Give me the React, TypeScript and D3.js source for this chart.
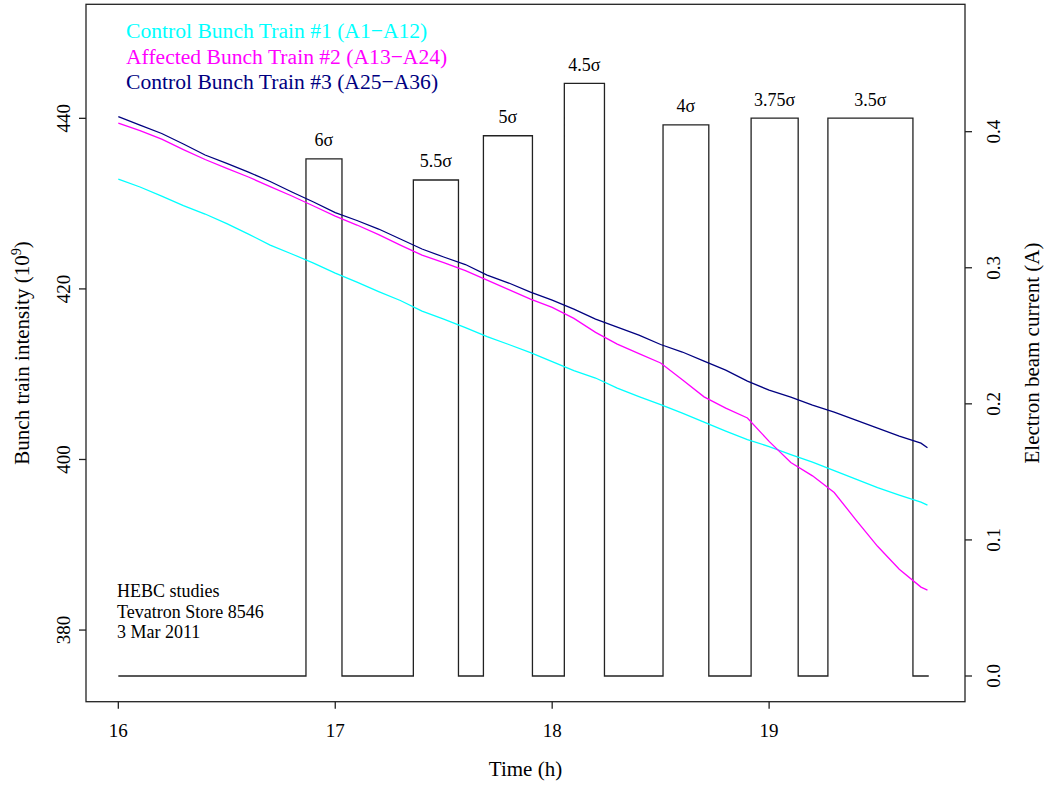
import React from "react";
import * as d3 from "d3";

// ---- Data ----
const times = [16.0, 16.1, 16.2, 16.3, 16.4, 16.5, 16.6, 16.7, 16.8, 16.9, 17.0, 17.1, 17.2, 17.3, 17.4, 17.5, 17.6, 17.7, 17.8, 17.9, 18.0, 18.1, 18.2, 18.3, 18.4, 18.5, 18.6, 18.7, 18.8, 18.9, 19.0, 19.1, 19.2, 19.3, 19.4, 19.5, 19.6, 19.7, 19.73];

const train1 = [432.88, 431.95, 430.89, 429.77, 428.78, 427.66, 426.43, 425.14, 424.09, 423.03, 421.86, 420.80, 419.69, 418.64, 417.40, 416.46, 415.47, 414.41, 413.48, 412.54, 411.48, 410.43, 409.55, 408.37, 407.38, 406.44, 405.44, 404.38, 403.33, 402.34, 401.51, 400.58, 399.70, 398.70, 397.70, 396.71, 395.83, 395.00, 394.65];

const train2 = [439.45, 438.57, 437.57, 436.34, 435.17, 434.14, 433.12, 432.00, 430.89, 429.72, 428.54, 427.49, 426.37, 425.14, 423.96, 423.09, 422.15, 421.04, 419.92, 418.81, 417.84, 416.54, 414.91, 413.53, 412.41, 411.31, 409.36, 407.34, 406.03, 404.86, 402.12, 399.65, 398.08, 396.13, 392.93, 389.82, 387.14, 385.04, 384.69];

const train3 = [440.21, 439.21, 438.22, 436.99, 435.70, 434.72, 433.70, 432.59, 431.36, 430.19, 428.95, 428.02, 427.02, 425.85, 424.68, 423.74, 422.86, 421.62, 420.69, 419.63, 418.69, 417.63, 416.46, 415.52, 414.58, 413.48, 412.60, 411.54, 410.48, 409.19, 408.13, 407.31, 406.38, 405.55, 404.62, 403.68, 402.74, 401.92, 401.37];

const pulseOn = [16.865, 17.36, 17.683, 18.056, 18.511, 18.917, 19.271];
const pulseOff = [17.031, 17.568, 17.909, 18.241, 18.722, 19.134, 19.663];
const pulseCurrent = [0.38, 0.3645, 0.397, 0.4355, 0.405, 0.41, 0.41];
const pulseLabels = ["6σ", "5.5σ", "5σ", "4.5σ", "4σ", "3.75σ", "3.5σ"];
const beamStart = 16.0;
const beamEnd = 19.736;

const xTicks = [16, 17, 18, 19];
const yLeftTicks = [380, 400, 420, 440];
const yRightTicks = [0.0, 0.1, 0.2, 0.3, 0.4];

const seriesNames = [
  "Control Bunch Train #1 (A1\u2212A12)",
  "Affected Bunch Train #2 (A13\u2212A24)",
  "Control Bunch Train #3 (A25\u2212A36)",
];
const seriesColors = ["#00FFFF", "#FF00FF", "#000080"];
const noteLines = ["HEBC studies", "Tevatron Store 8546", "3 Mar 2011"];

// ---- Layout ----
const W = 1045;
const H = 786;
const L = 86, R = 965, T = 4.3, B = 701.7;
const FONT = "'Liberation Serif', 'Times New Roman', serif";

export default function App() {
  const x = d3.scaleLinear().domain([15.851, 19.903]).range([L, R]);
  const yL = d3.scaleLinear().domain([371.6, 453.37]).range([B, T]);
  const yR = d3.scaleLinear().domain([-0.01889, 0.49361]).range([B, T]);

  const series = [train1, train2, train3];
  const line = d3
    .line<[number, number]>()
    .x((d) => x(d[0]))
    .y((d) => yL(d[1]));

  const stepPts: [number, number][] = [[beamStart, 0]];
  pulseOn.forEach((on, i) => {
    stepPts.push([on, 0], [on, pulseCurrent[i]], [pulseOff[i], pulseCurrent[i]], [pulseOff[i], 0]);
  });
  stepPts.push([beamEnd, 0]);
  const stepLine = d3
    .line<[number, number]>()
    .x((d) => x(d[0]))
    .y((d) => yR(d[1]));

  const stroke = "#222";

  return (
    <svg
      width={W}
      height={H}
      style={{ position: "absolute", left: 0, top: 0, background: "#fff" }}
      fontFamily={FONT}
    >
      <rect x={0} y={0} width={W} height={H} fill="#fff" />
      {/* beam current steps */}
      <path d={stepLine(stepPts) || ""} fill="none" stroke={stroke} strokeWidth={1.3} />
      {pulseLabels.map((lab, i) => (
        <text
          key={lab}
          x={x((pulseOn[i] + pulseOff[i]) / 2)}
          y={yR(pulseCurrent[i]) - 12.5}
          textAnchor="middle"
          fontSize={18}
          fill="#000"
        >
          {lab}
        </text>
      ))}

      {/* intensity lines */}
      {series.map((s, i) => (
        <path
          key={i}
          d={line(times.map((t, j) => [t, s[j]] as [number, number])) || ""}
          fill="none"
          stroke={seriesColors[i]}
          strokeWidth={1.3}
        />
      ))}

      {/* box */}
      <rect x={L} y={T} width={R - L} height={B - T} fill="none" stroke={stroke} strokeWidth={1.3} />

      {/* x axis */}
      {xTicks.map((t) => (
        <g key={t}>
          <line x1={x(t)} x2={x(t)} y1={B} y2={B + 7} stroke={stroke} strokeWidth={1.3} />
          <text x={x(t)} y={736.5} textAnchor="middle" fontSize={19}>
            {t}
          </text>
        </g>
      ))}
      <text x={(L + R) / 2} y={776} textAnchor="middle" fontSize={21}>
        Time (h)
      </text>

      {/* left axis */}
      {yLeftTicks.map((t) => (
        <g key={t}>
          <line x1={L} x2={L - 7} y1={yL(t)} y2={yL(t)} stroke={stroke} strokeWidth={1.3} />
          <text transform={`translate(70,${yL(t)}) rotate(-90)`} textAnchor="middle" fontSize={19}>
            {t}
          </text>
        </g>
      ))}
      <text transform={`translate(29,${(T + B) / 2}) rotate(-90)`} textAnchor="middle" fontSize={21}>
        Bunch train intensity (10
        <tspan dy={-8} fontSize={14}>9</tspan>
        <tspan dy={8}>)</tspan>
      </text>

      {/* right axis */}
      {yRightTicks.map((t) => (
        <g key={t}>
          <line x1={R} x2={R + 7} y1={yR(t)} y2={yR(t)} stroke={stroke} strokeWidth={1.3} />
          <text transform={`translate(1000,${yR(t)}) rotate(-90)`} textAnchor="middle" fontSize={19}>
            {t.toFixed(1)}
          </text>
        </g>
      ))}
      <text transform={`translate(1039,${(T + B) / 2}) rotate(-90)`} textAnchor="middle" fontSize={21}>
        Electron beam current (A)
      </text>

      {/* legend */}
      {seriesNames.map((n, i) => (
        <text key={n} x={126} y={38.3 + i * 25.3} fontSize={21.6} fill={seriesColors[i]}>
          {n}
        </text>
      ))}

      {/* note */}
      {noteLines.map((n, i) => (
        <text key={n} x={117} y={597 + i * 20.5} fontSize={18}>
          {n}
        </text>
      ))}
    </svg>
  );
}
